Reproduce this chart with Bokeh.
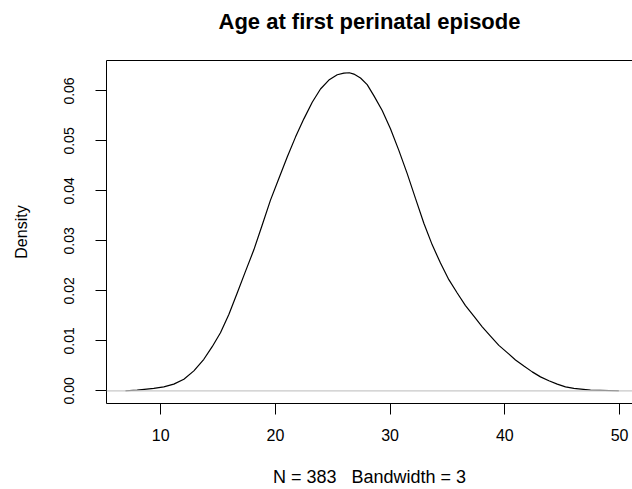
from bokeh.plotting import figure
from bokeh.models import FixedTicker, NumeralTickFormatter, Span, LinearAxis, Range1d
from bokeh.embed import file_html
from bokeh.resources import INLINE

# Density curve (age in years, density)
ages = [6.93, 7.95, 9.40, 10.27, 11.14, 12.02, 12.89, 13.76, 14.49, 15.21,
        15.94, 16.67, 17.39, 18.12, 18.85, 19.57, 20.30, 21.03, 21.75, 22.48,
        23.21, 23.93, 24.66, 25.39, 25.97, 26.45, 26.84, 27.42, 28.00, 28.58,
        29.31, 30.03, 30.76, 31.49, 32.21, 32.94, 33.67, 34.39, 35.12, 35.85,
        36.57, 37.30, 38.03, 38.75, 39.48, 40.21, 40.93, 41.66, 42.39, 43.11,
        43.84, 44.57, 45.29, 46.02, 47.47, 49.94]
density = [0.00001, 0.00014, 0.00047, 0.00080, 0.00133, 0.00233, 0.00399, 0.00631, 0.00883, 0.01162,
           0.01527, 0.01958, 0.02390, 0.02821, 0.03319, 0.03816, 0.04248, 0.04679, 0.05077, 0.05442,
           0.05774, 0.06040, 0.06219, 0.06325, 0.06358, 0.06365, 0.06338, 0.06259, 0.06126, 0.05907,
           0.05608, 0.05243, 0.04812, 0.04347, 0.03850, 0.03352, 0.02921, 0.02556, 0.02224, 0.01958,
           0.01706, 0.01494, 0.01281, 0.01096, 0.00910, 0.00764, 0.00618, 0.00498, 0.00379, 0.00279,
           0.00200, 0.00133, 0.00080, 0.00047, 0.00014, 0.00001]

x_ticks = [10, 20, 30, 40, 50]
y_ticks = [0.00, 0.01, 0.02, 0.03, 0.04, 0.05, 0.06]
title_text = "Age at first perinatal episode"
x_label = "N = 383\u00a0\u00a0\u00a0Bandwidth = 3"
y_label = "Density"

FONT = "Liberation Sans"

p = figure(width=632, height=489, output_backend="svg", toolbar_location=None,
           x_range=Range1d(5.275, 51.13), y_range=Range1d(-0.00254, 0.0661),
           min_border_left=106, min_border_right=0, min_border_top=60,
           min_border_bottom=84,
           x_axis_label=x_label, y_axis_label=y_label)

p.outline_line_color = None
p.xgrid.visible = False
p.ygrid.visible = False
p.background_fill_color = "white"
p.border_fill_color = "white"

for ax in (p.xaxis[0], p.yaxis[0]):
    ax.major_tick_out = 11
    ax.major_tick_in = 0
    ax.minor_tick_out = 0
    ax.minor_tick_in = 0
    ax.axis_line_color = "black"
    ax.major_tick_line_color = "black"
    ax.major_label_text_font = FONT
    ax.major_label_text_color = "black"
    ax.axis_label_text_font = FONT
    ax.axis_label_text_font_style = "normal"
    ax.axis_label_text_color = "black"

p.xaxis.ticker = FixedTicker(ticks=x_ticks)
p.yaxis.ticker = FixedTicker(ticks=y_ticks)
p.yaxis.formatter = NumeralTickFormatter(format="0.00")
p.yaxis.major_label_orientation = "vertical"

p.xaxis.major_label_text_font_size = "16px"
p.yaxis.major_label_text_font_size = "14px"
p.xaxis.axis_label_text_font_size = "18px"
p.yaxis.axis_label_text_font_size = "16px"
p.xaxis.major_label_standoff = 14
p.yaxis.major_label_standoff = 21
p.xaxis.axis_label_standoff = 23
p.yaxis.axis_label_standoff = 32

# top side of the box (its right side lies beyond the picture), carrying the title
top = LinearAxis(ticker=FixedTicker(ticks=[]), major_label_text_font_size="0px",
                 major_tick_out=0, major_tick_in=0, minor_tick_out=0, minor_tick_in=0,
                 major_label_standoff=0, axis_line_color="black",
                 axis_label=title_text, axis_label_standoff=27,
                 axis_label_text_font=FONT, axis_label_text_font_style="bold",
                 axis_label_text_font_size="22px", axis_label_text_color="black")
p.add_layout(top, "above")

p.add_layout(Span(location=0, dimension="width", line_color="#c8c8c8", line_width=1.2))
p.line(ages, density, line_color="black", line_width=1.2)

open("out.html", "w").write(file_html(p, INLINE))
